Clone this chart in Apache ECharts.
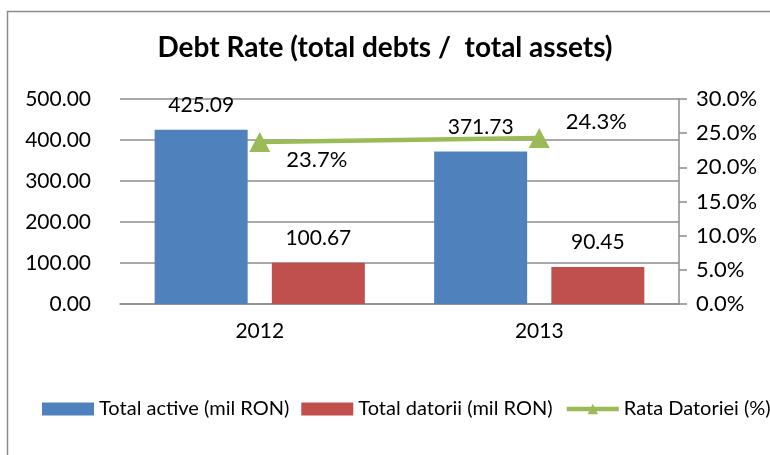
<!DOCTYPE html>
<html lang="en">
<head>
    <meta charset="UTF-8">
    <title>Debt Rate</title>
    <script src="https://cdn.jsdelivr.net/npm/echarts@6/dist/echarts.min.js"></script>
    <style>
        html, body { margin: 0; padding: 0; background: #fff; }
    </style>
</head>
<body>
<div id="main" style="width: 770px;height: 455px"></div>
<script>
    // data
    var years = ['2012', '2013'];
    var totalActive = [425.09, 371.73];
    var totalDatorii = [100.67, 90.45];
    var rataDatoriei = [23.7, 24.3];   // percent

    var FONT = 'Lato';
    var LBL = 21;

    var chartDom = document.getElementById('main');
    var myChart = echarts.init(chartDom);
    var option;

    option = {
        animation: false,
        textStyle: { fontFamily: FONT },
        title: {
            text: 'Debt Rate (total debts /  total assets)',
            left: 'center',
            top: 29,
            textStyle: { fontFamily: FONT, fontWeight: 'bold', fontSize: 28, color: '#000' }
        },
        graphic: [{
            type: 'rect',
            shape: { x: 7.5, y: 11.5, width: 900, height: 600 },
            style: { fill: 'none', stroke: '#8c8c8c', lineWidth: 1.5 },
            silent: true
        }],
        legend: {
            left: 37,
            top: 394,
            width: 760,
            itemWidth: 52,
            itemHeight: 13,
            itemGap: 12,
            textStyle: { fontFamily: FONT, fontSize: 20, color: '#000' },
            data: [
                { name: 'Total active (mil RON)', icon: 'rect' },
                { name: 'Total datorii (mil RON)', icon: 'rect' },
                { name: 'Rata Datoriei (%)', lineStyle: { width: 4.5 } }
            ]
        },
        grid: { left: 120, right: 91, top: 99, bottom: 151 },
        xAxis: {
            type: 'category',
            data: years,
            axisLine: { lineStyle: { color: '#8c8c8c', width: 1.5 } },
            axisTick: { show: false },
            axisLabel: { color: '#000', fontSize: LBL, margin: 17 }
        },
        yAxis: [
            {
                type: 'value',
                min: 0, max: 500, interval: 100,
                axisLine: { show: false },
                axisTick: { show: false },
                splitLine: { lineStyle: { color: '#8c8c8c', width: 1.5 } },
                axisLabel: {
                    color: '#000', fontSize: LBL, margin: 29,
                    formatter: function (v) { return v.toFixed(2); }
                }
            },
            {
                type: 'value',
                min: 0, max: 30, interval: 5,
                position: 'right',
                axisLine: { show: true, lineStyle: { color: '#8c8c8c', width: 1.5 } },
                axisTick: { show: true, length: 8, lineStyle: { color: '#8c8c8c', width: 1.5 } },
                splitLine: { show: false },
                axisLabel: {
                    color: '#000', fontSize: 22, margin: 17,
                    formatter: function (v) { return v.toFixed(1) + '%'; }
                }
            }
        ],
        series: [
            {
                name: 'Total active (mil RON)',
                type: 'bar',
                data: totalActive,
                barWidth: 93,
                barGap: '26%',
                itemStyle: { color: '#4F81BD' },
                label: {
                    show: true, position: 'top', distance: 14,
                    color: '#000', fontSize: LBL,
                    formatter: function (p) { return p.value.toFixed(2); }
                }
            },
            {
                name: 'Total datorii (mil RON)',
                type: 'bar',
                data: totalDatorii,
                barWidth: 93,
                itemStyle: { color: '#C0504D' },
                label: {
                    show: true, position: 'top', distance: 14,
                    color: '#000', fontSize: LBL,
                    formatter: function (p) { return p.value.toFixed(2); }
                }
            },
            {
                name: 'Rata Datoriei (%)',
                type: 'line',
                yAxisIndex: 1,
                data: rataDatoriei.map(function (v, i) {
                    return {
                        value: v,
                        label: { offset: i === 0 ? [0, 18] : [0, -16] }
                    };
                }),
                symbol: 'triangle',
                symbolSize: [21, 20],
                lineStyle: { color: '#9BBB59', width: 4.5 },
                itemStyle: { color: '#9BBB59' },
                label: {
                    show: true, position: 'right', distance: 16,
                    color: '#000', fontSize: 22,
                    formatter: function (p) { return p.value.toFixed(1) + '%'; }
                }
            }
        ]
    };
    option && myChart.setOption(option);
</script>
</body>
</html>
